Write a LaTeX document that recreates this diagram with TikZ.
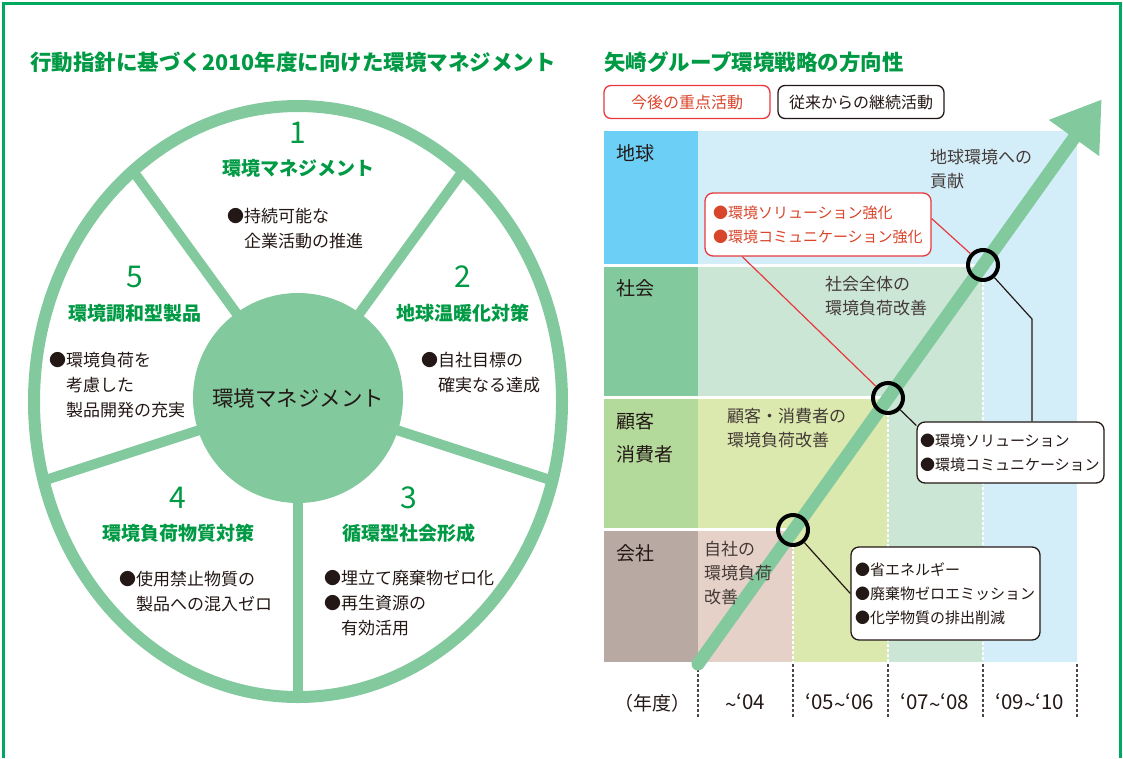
\documentclass[tikz,border=0pt]{standalone}
\usepackage{fontspec}
\setmainfont{Noto Sans CJK JP}
\definecolor{frameG}{HTML}{00A95F}
\definecolor{titleG}{HTML}{009944}
\definecolor{lightG}{HTML}{82C99E}
\definecolor{txt}{HTML}{231815}
\definecolor{rowBlue}{HTML}{6CCFF6}
\definecolor{areaBlue}{HTML}{D3EEF9}
\definecolor{rowGreen}{HTML}{82C99E}
\definecolor{areaGreen}{HTML}{CCE6D5}
\definecolor{rowYG}{HTML}{B3D99B}
\definecolor{areaYG}{HTML}{DCE9AE}
\definecolor{rowBrown}{HTML}{B8AAA2}
\definecolor{areaPink}{HTML}{E5D1C8}
\definecolor{boxRed}{HTML}{E8383D}
\definecolor{textRed}{HTML}{D9452B}
\newcommand{\wv}{\raisebox{-0.12em}{\textasciitilde}}
\tikzset{
  ttl/.style={font=\fontsize{21.5}{26}\selectfont\bfseries, text=titleG, inner sep=0pt, anchor=west},
  num/.style={font=\fontsize{30}{32}\selectfont, text=titleG, inner sep=0pt},
  head/.style={font=\fontsize{19}{22}\selectfont\bfseries, text=titleG, inner sep=0pt},
  body/.style={font=\fontsize{17}{25}\selectfont, text=txt, inner sep=0pt, anchor=west, align=left},
  rowlab/.style={font=\fontsize{19}{33}\selectfont, text=txt, inner sep=0pt, anchor=west, align=left},
  area/.style={font=\fontsize{17}{24}\selectfont, text=txt!85, inner sep=0pt, anchor=west, align=left},
  year/.style={font=\fontsize{20.5}{22}\selectfont, text=txt, inner sep=0pt},
  legend/.style={draw, rounded corners=7pt, line width=1.3pt, minimum width=166pt, minimum height=33pt, inner sep=0pt, font=\fontsize{16}{18}\selectfont},
  callout/.style={draw, rounded corners=8pt, line width=1.3pt, inner sep=0pt, align=left, fill=white, font=\fontsize{15}{24}\selectfont},
  ring/.style={circle, draw=black, line width=4pt, minimum size=30pt, inner sep=0pt},
  link/.style={line width=1.2pt},
  sep/.style={white, line width=3pt},
  dotsep/.style={white, line width=2.5pt, dash pattern=on 2.5pt off 2.5pt},
  ytick/.style={txt!80, line width=1.2pt, dash pattern=on 2.5pt off 2.5pt}
}
\begin{document}
\begin{tikzpicture}[x=1pt,y=-1pt]
\useasboundingbox (0,0) rectangle (1123,758);
% frame
\draw[frameG, line width=3pt] (3,758) -- (3,3) -- (1120,3) -- (1120,758);
% titles
\node[ttl] (t1) at (30,62) {行動指針に基づく2010年度に向けた環境マネジメント};
\node[ttl] (t2) at (604,62) {矢崎グループ環境戦略の方向性};
% ---------- left: ellipse ----------
\coordinate (ec) at (298,401.5);
\begin{scope}
  \clip (ec) ellipse [x radius=264pt, y radius=295.5pt];
  \foreach \a in {126,54,-18,-90,198}
    \draw[lightG, line width=10pt] (298,398) -- ++(\a:420pt);
\end{scope}
\draw[lightG, line width=12pt] (ec) ellipse [x radius=264pt, y radius=295.5pt];
\node[circle, fill=lightG, minimum size=210pt, inner sep=0pt, font=\fontsize{21.5}{24}\selectfont, text=txt] (core) at (298,398) {環境マネジメント};
% section 1
\node[num] (n1) at (298,133) {1};
\node[head] (h1) at (298,168) {環境マネジメント};
\node[body] (b1) at (227,229) {●持続可能な\\\hspace*{1em}企業活動の推進};
% section 2
\node[num] (n2) at (463,277) {2};
\node[head] (h2) at (463,313) {地球温暖化対策};
\node[body] (b2) at (421,373) {●自社目標の\\\hspace*{1em}確実なる達成};
% section 3
\node[num] (n3) at (409,498) {3};
\node[head] (h3) at (409,533) {循環型社会形成};
\node[body] (b3) at (324,603.5) {●埋立て廃棄物ゼロ化\\●再生資源の\\\hspace*{1em}有効活用};
% section 4
\node[num] (n4) at (178,498) {4};
\node[head] (h4) at (178,533) {環境負荷物質対策};
\node[body] (b4) at (119,591.5) {●使用禁止物質の\\\hspace*{1em}製品への混入ゼロ};
% section 5
\node[num] (n5) at (135,277) {5};
\node[head] (h5) at (135,313) {環境調和型製品};
\node[body] (b5) at (49,385) {●環境負荷を\\\hspace*{1em}考慮した\\\hspace*{1em}製品開発の充実};
% ---------- right: chart ----------
\node[legend, draw=boxRed, text=textRed] (lg1) at (687,102) {今後の重点活動};
\node[legend, draw=txt, text=txt] (lg2) at (861,102) {従来からの継続活動};
% areas
\fill[areaBlue] (698,131) rectangle (1077,662);
\fill[areaGreen] (698,265) rectangle (983,662);
\fill[areaYG] (698,397) rectangle (888,662);
\fill[areaPink] (698,529) rectangle (793,662);
% label column
\fill[rowBlue] (604,131) rectangle (698,265);
\fill[rowGreen] (604,265) rectangle (698,397);
\fill[rowYG] (604,397) rectangle (698,529);
\fill[rowBrown] (604,529) rectangle (698,662);
% separators
\draw[sep] (604,265) -- (983,265);
\draw[sep] (604,397) -- (888,397);
\draw[sep] (604,529) -- (793,529);
\draw[dotsep] (983,267) -- (983,662);
\draw[dotsep] (888,399) -- (888,662);
\draw[dotsep] (793,531) -- (793,662);
% year ticks
\foreach \x in {698,793,888,983,1077}
  \draw[ytick] (\x,664) -- (\x,718);
\node[year, font=\fontsize{19}{22}\selectfont] (y0) at (652,703) {（年度）};
\node[year] (y1) at (745,703) {\wv‘04};
\node[year] (y2) at (840,703) {‘05\wv‘06};
\node[year] (y3) at (935,703) {‘07\wv‘08};
\node[year] (y4) at (1030,703) {‘09\wv‘10};
% row labels
\node[rowlab] (r1) at (616,153) {地球};
\node[rowlab] (r2) at (616,288) {社会};
\node[rowlab] (r3) at (616,437.5) {顧客\\消費者};
\node[rowlab] (r4) at (616,553) {会社};
% big arrow
\coordinate (arrS) at (698,664);
\coordinate (arrB) at (1074,138);
\coordinate (arrL) at (1048.8,119.9);
\coordinate (arrR) at (1099.2,156.1);
\coordinate (arrT) at (1101.4,99.8);
\draw[lightG, line width=13pt, line cap=round] (arrS) -- (arrB);
\fill[lightG] (arrL) -- (arrT) -- (arrR) -- cycle;
% area texts
\node[area] (a1) at (930,169) {地球環境への\\貢献};
\node[area] (a2) at (825,296.5) {社会全体の\\環境負荷改善};
\node[area] (a3) at (727,428) {顧客・消費者の\\環境負荷改善};
\node[area] (a4) at (704,573) {自社の\\環境負荷\\改善};
% rings
\node[ring] (c1) at (793,530) {};
\node[ring] (c2) at (888,398) {};
\node[ring] (c3) at (983,265) {};
% callouts
\node[callout, draw=boxRed, text=textRed, minimum width=226pt, minimum height=63pt, text width=210pt] (rb) at (818,224.5) {●環境ソリューション強化\\●環境コミュニケーション強化};
\node[callout, draw=txt, text=txt, minimum width=187pt, minimum height=61pt, text width=181pt] (bb1) at (1010.5,452.5) {●環境ソリューション\\●環境コミュニケーション};
\node[callout, draw=txt, text=txt, minimum width=189pt, minimum height=93pt, text width=181pt] (bb2) at (945.5,593.5) {●省エネルギー\\●廃棄物ゼロエミッション\\●化学物質の排出削減};
% links
\draw[link, boxRed] (rb.3) -- (c3);
\draw[link, boxRed] (rb.203.3) -- (c2);
\coordinate (k1) at (1032,319);
\draw[link, txt] (c3) -- (k1) -- (k1 |- bb1.north);
\draw[link, txt] (c2) -- (bb1.164.6);
\draw[link, txt] (c1) -- (bb2.west);
\end{tikzpicture}
\end{document}
